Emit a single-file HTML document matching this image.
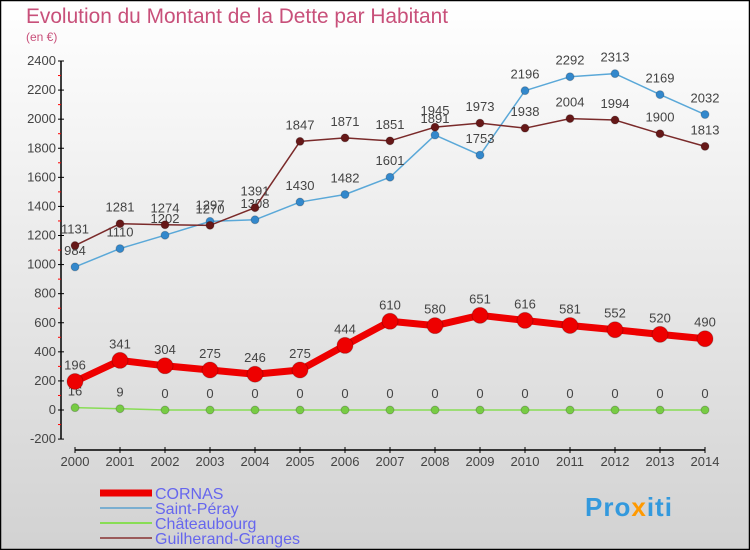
<!DOCTYPE html>
<html><head><meta charset="utf-8"><style>
html,body{margin:0;padding:0}
body{width:750px;height:550px;overflow:hidden;font-family:"Liberation Sans",sans-serif}
svg{display:block}
</style></head><body>
<svg id="chart" width="750" height="550" xmlns="http://www.w3.org/2000/svg">
<defs><linearGradient id="bg" x1="0" y1="0" x2="0" y2="1"><stop offset="0" stop-color="#ffffff"/><stop offset="1" stop-color="#d2d2d2"/></linearGradient></defs>
<rect x="0.5" y="0.5" width="749" height="549" fill="url(#bg)" stroke="#000" stroke-width="1.5"/>
<text x="26" y="23" font-size="21" fill="#c8507a" textLength="422" lengthAdjust="spacingAndGlyphs">Evolution du Montant de la Dette par Habitant</text>
<text x="26" y="41" font-size="12" fill="#c8507a">(en €)</text>
<g id="axes"></g><g id="series"></g><g id="legend"></g>
<text x="585" y="516" font-size="26" font-weight="bold" fill="#3399dd" letter-spacing="1">Pro<tspan fill="#ff9900">x</tspan>iti</text>
</svg>
<script>
const years=[2000,2001,2002,2003,2004,2005,2006,2007,2008,2009,2010,2011,2012,2013,2014];
const yTicks=[-200,0,200,400,600,800,1000,1200,1400,1600,1800,2000,2200,2400];
const cornas=[196,341,304,275,246,275,444,610,580,651,616,581,552,520,490];
const saintPeray=[984,1110,1202,1297,1308,1430,1482,1601,1891,1753,2196,2292,2313,2169,2032];
const chateaubourg=[16,9,0,0,0,0,0,0,0,0,0,0,0,0,0];
const guilherand=[1131,1281,1274,1270,1391,1847,1871,1851,1945,1973,1938,2004,1994,1900,1813];
const NS="http://www.w3.org/2000/svg";
function X(i){return 75+i*45;}
function Y(v){return 410-v*(349/2400);}
function mk(tag,attrs,parent,txt){const e=document.createElementNS(NS,tag);for(const k in attrs)e.setAttribute(k,attrs[k]);if(txt!==undefined)e.textContent=txt;parent.appendChild(e);return e;}
const ax=document.getElementById('axes');
let e=mk('line',{x1:61,y1:Y(2400),x2:61,y2:Y(-200),stroke:'#000','stroke-width':1.5},ax);


yTicks.forEach((t,i)=>{
  let l=mk('line',{x1:58,y1:Y(t),x2:64,y2:Y(t),stroke:'#000'},ax);
  
  
  let tx=mk('text',{x:56,y:Y(t)+4,'font-size':13,'text-anchor':'end',fill:'#444'},ax,t);
  
  
  if(i<yTicks.length-1){let m=mk('line',{x1:58,y1:Y(t+100),x2:61,y2:Y(t+100),stroke:'#f00'},ax);
  
  }
});
e=mk('line',{x1:X(0),y1:450,x2:X(14),y2:450,stroke:'#000','stroke-width':1.5},ax);


years.forEach((yv,i)=>{
  let l=mk('line',{x1:X(i),y1:447,x2:X(i),y2:453,stroke:'#000'},ax);
  
  
  let tx=mk('text',{x:X(i),y:466,'font-size':13,'text-anchor':'middle',fill:'#444'},ax,yv);
  
  
});
const sg=document.getElementById('series');
function series(vals,color,w,r,name,dot){
  const g=mk('g',{},sg);
  
  
  const pl=mk('polyline',{points:vals.map((v,i)=>X(i)+','+Y(v)).join(' '),fill:'none',stroke:color,'stroke-width':w,'stroke-linejoin':'round'},g);
  
  
  vals.forEach((v,i)=>{
    const c=mk('circle',{cx:X(i),cy:Y(v),r:r,fill:dot,stroke:'rgba(0,0,0,0.2)'},g);
    
    
    const t=mk('text',{x:X(i),y:Y(v)-12,'font-size':13,'text-anchor':'middle',fill:'#444'},g,v);
    
    
  });
}
series(chateaubourg,'#88dd55',1.5,4,'chateaubourg','#77cc44');
series(saintPeray,'#5aa8d8',1.5,4,'saint-peray','#3388cc');
series(guilherand,'#7a2a2a',1.5,4,'guilherand-granges','#661818');
series(cornas,'#ee0000',7,8,'cornas','#ee0000');
const lg=document.getElementById('legend');
const items=[['CORNAS','#ee0000',7],['Saint-Péray','#7aaed0',2],['Châteaubourg','#88dd55',2],['Guilherand-Granges','#9a5a5a',2]];
items.forEach((it,i)=>{
  const y=493+i*15;
  const l=mk('line',{x1:100,y1:y,x2:152,y2:y,stroke:it[1],'stroke-width':it[2]},lg);
  
  
  const t=mk('text',{x:155,y:y+6,'font-size':16,fill:'#6666ee'},lg,it[0]);
  
  
});
</script>
</body></html>
